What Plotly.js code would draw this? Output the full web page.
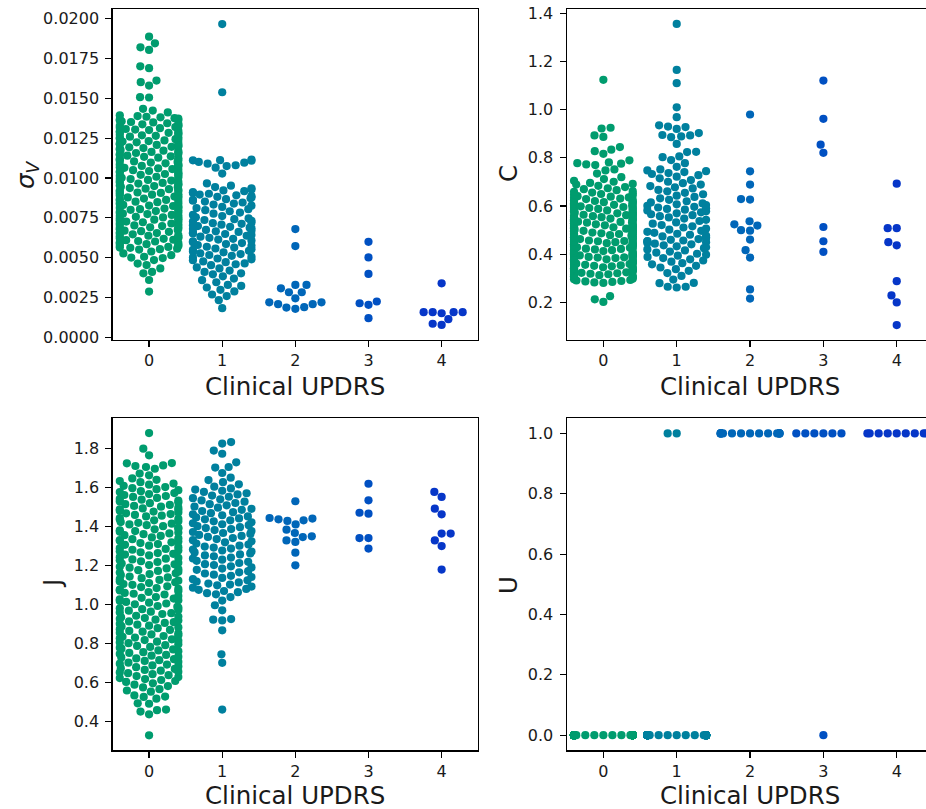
<!DOCTYPE html>
<html>
<head>
<meta charset="utf-8">
<script src="https://cdn.plot.ly/plotly-3.0.1.min.js"></script>
<style>html,body{margin:0;padding:0;overflow:hidden;background:#fff}</style>
</head>
<body>
<div id="chart"></div>
<script>
// ---------------- DATA ----------------
const categories = [0, 1, 2, 3, 4];
const catLabels = ["0", "1", "2", "3", "4"];
const xTitle = "Clinical UPDRS";

// sigma_V per category
const sigV0 = [
0.01888,0.01846,0.01821,0.01805,0.01702,0.01690,0.01612,0.01602,0.01581,0.01508,0.01506,0.01435,0.01424,0.01412,
0.00550,0.00553,0.00556,0.00561,0.00563,0.00567,0.00572,0.00575,0.00579,0.00584,0.00588,0.00591,0.00596,
0.00601,0.00604,0.00609,0.00612,0.00618,0.00621,0.00625,0.00628,0.00633,0.00637,0.00641,0.00646,
0.00650,0.00654,0.00657,0.00662,0.00666,0.00669,0.00674,0.00678,0.00681,0.00686,0.00690,0.00693,0.00698,
0.00702,0.00705,0.00710,0.00714,0.00717,0.00722,0.00726,0.00729,0.00733,0.00738,0.00741,0.00745,0.00749,
0.00752,0.00756,0.00761,0.00764,0.00768,0.00773,0.00776,0.00780,0.00785,0.00788,0.00792,0.00797,
0.00800,0.00804,0.00808,0.00812,0.00815,0.00820,0.00824,0.00827,0.00831,0.00836,0.00839,0.00843,0.00848,
0.00851,0.00855,0.00859,0.00862,0.00867,0.00871,0.00874,0.00878,0.00883,0.00886,0.00890,0.00895,0.00898,
0.00902,0.00906,0.00909,0.00914,0.00918,0.00921,0.00925,0.00930,0.00933,0.00937,0.00942,0.00945,0.00949,
0.00953,0.00957,0.00960,0.00965,0.00969,0.00972,0.00977,0.00981,0.00984,0.00988,0.00993,0.00996,
0.01001,0.01004,0.01008,0.01013,0.01016,0.01020,0.01025,0.01028,0.01032,0.01037,0.01040,0.01044,0.01049,
0.01052,0.01056,0.01061,0.01064,0.01068,0.01073,0.01076,0.01080,0.01085,0.01088,0.01092,0.01097,
0.01100,0.01104,0.01109,0.01112,0.01116,0.01121,0.01124,0.01128,0.01133,0.01136,0.01140,0.01145,0.01148,
0.01152,0.01157,0.01160,0.01164,0.01169,0.01172,0.01176,0.01181,0.01184,0.01188,0.01193,0.01196,
0.01200,0.01205,0.01208,0.01212,0.01217,0.01220,0.01224,0.01229,0.01232,0.01236,0.01241,0.01244,0.01248,
0.01253,0.01256,0.01260,0.01265,0.01268,0.01272,0.01277,0.01280,0.01284,0.01289,0.01292,0.01296,
0.01301,0.01304,0.01308,0.01313,0.01316,0.01320,0.01325,0.01328,0.01332,0.01337,0.01340,0.01344,0.01349,
0.01352,0.01356,0.01361,0.01364,0.01368,0.01373,0.01376,0.01381,0.01385,0.01389,0.01394,
0.00538,0.00526,0.00515,0.00505,0.00500,0.00497,0.00484,0.00462,0.00453,0.00432,0.00410,0.00401,0.00359,0.00286];
const sigV1 = [
0.01967,0.01539,
0.01115,0.01112,0.01111,0.01109,0.01101,0.01096,0.01090,0.01080,0.01075,0.01065,0.01028,
0.00452,0.00458,0.00463,0.00471,0.00476,0.00483,0.00489,0.00494,
0.00501,0.00505,0.00511,0.00516,0.00522,0.00527,0.00533,0.00538,0.00543,0.00548,
0.00552,0.00557,0.00563,0.00568,0.00574,0.00579,0.00585,0.00591,0.00596,
0.00602,0.00607,0.00613,0.00618,0.00624,0.00631,0.00637,0.00642,0.00648,
0.00652,0.00656,0.00661,0.00665,0.00669,0.00674,0.00679,0.00684,0.00688,0.00693,0.00698,
0.00703,0.00707,0.00712,0.00716,0.00721,0.00726,0.00731,0.00736,0.00741,0.00746,
0.00753,0.00761,0.00768,0.00776,0.00783,0.00791,0.00798,
0.00804,0.00811,0.00818,0.00826,0.00833,0.00839,0.00846,
0.00852,0.00857,0.00862,0.00867,0.00872,0.00877,0.00882,0.00886,0.00891,0.00896,
0.00901,0.00906,0.00911,0.00917,0.00922,0.00928,0.00935,0.00943,0.00952,0.00966,
0.00438,0.00432,0.00418,0.00410,0.00401,0.00395,0.00382,0.00368,0.00358,0.00345,0.00328,0.00322,0.00312,0.00297,0.00287,0.00268,0.00258,0.00232,0.00182];
const sigV2 = [0.00679,0.00572,0.00307,0.00328,0.00328,0.00282,0.00282,0.00244,0.00219,0.00219,0.00207,0.00207,0.00186,0.00178,0.00188];
const sigV3 = [0.00599,0.00501,0.00397,0.00213,0.00203,0.00224,0.00119];
const sigV4 = [0.00338,0.00157,0.00157,0.00150,0.00157,0.00157,0.00113,0.00077,0.00084];

// C per category
const c0 = [
1.124,
0.925,0.922,0.893,0.887,0.845,0.834,0.828,0.817,0.790,0.781,0.778,0.776,0.773,0.770,0.752,0.748,0.735,0.720,0.705,
0.692,0.696,0.701,0.712,
0.226,0.213,0.202,
0.281,0.283,0.285,0.287,0.289,0.291,0.293,0.296,0.298,
0.301,0.303,0.305,0.307,0.309,0.311,0.313,0.315,0.317,0.319,
0.321,0.323,0.325,0.327,0.329,0.331,0.333,0.335,0.337,0.339,
0.341,0.342,0.344,0.346,0.348,0.350,0.352,0.354,0.356,0.357,0.359,
0.361,0.362,0.364,0.366,0.368,0.370,0.371,0.373,0.375,0.377,0.379,
0.380,0.382,0.384,0.386,0.387,0.389,0.391,0.393,0.395,0.396,0.398,
0.400,0.402,0.404,0.405,0.407,0.409,0.411,0.413,0.414,0.416,0.418,
0.420,0.422,0.423,0.425,0.427,0.429,0.431,0.432,0.434,0.436,0.438,0.439,
0.441,0.443,0.445,0.446,0.448,0.450,0.452,0.454,0.455,0.457,0.459,
0.461,0.463,0.464,0.466,0.468,0.470,0.472,0.473,0.475,0.477,0.479,
0.481,0.482,0.484,0.486,0.488,0.490,0.491,0.493,0.495,0.497,0.499,
0.500,0.502,0.504,0.506,0.508,0.509,0.511,0.513,0.515,0.517,0.518,
0.520,0.522,0.524,0.526,0.527,0.529,0.531,0.533,0.535,0.537,0.539,
0.541,0.543,0.545,0.546,0.548,0.550,0.552,0.554,0.556,0.558,
0.560,0.562,0.564,0.566,0.568,0.570,0.572,0.574,0.576,0.578,
0.580,0.582,0.584,0.586,0.588,0.590,0.592,0.594,0.596,0.598,
0.601,0.603,0.605,0.608,0.610,0.612,0.614,0.617,0.619,
0.621,0.624,0.626,0.629,0.631,0.634,0.636,0.639,
0.641,0.644,0.647,0.650,0.653,0.656,0.659,
0.662,0.666,0.670,0.674,0.679,0.684,0.689,
0.347,0.374,0.392,0.417,0.444,0.469,0.487,0.512,0.534,0.557,0.579,0.599,0.616];
const c1 = [
1.356,1.165,1.110,1.010,0.969,
0.935,0.930,0.928,0.920,0.903,0.895,0.893,0.889,0.886,0.858,0.825,0.824,0.806,0.803,
0.262,0.265,0.265,0.281,0.280,0.295,0.310,
0.322,0.331,0.338,0.345,0.352,0.358,
0.363,0.369,0.374,0.379,0.384,0.389,0.394,0.398,
0.402,0.407,0.411,0.416,0.420,0.425,0.429,0.433,0.437,
0.441,0.444,0.447,0.450,0.453,0.455,0.457,0.460,0.463,0.467,0.470,0.474,0.477,
0.481,0.485,0.489,0.493,0.497,0.502,0.506,0.511,0.516,
0.521,0.527,0.532,0.538,0.543,0.548,0.553,0.558,
0.562,0.566,0.570,0.574,0.578,0.582,0.585,0.588,0.591,0.594,0.597,
0.601,0.604,0.607,0.611,0.615,0.620,0.626,0.632,0.638,
0.643,0.649,0.655,0.661,0.667,0.673,0.678,
0.683,0.689,0.695,0.701,0.708,0.715,
0.722,0.728,0.733,0.737,0.741,0.745,0.748,0.752,0.763,0.778,0.791];
const c2 = [0.980,0.744,0.689,0.629,0.627,0.537,0.524,0.519,0.500,0.498,0.461,0.417,0.386,0.254,0.216];
const c3 = [1.121,0.962,0.855,0.821,0.513,0.454,0.410];
const c4 = [0.693,0.508,0.508,0.450,0.437,0.288,0.229,0.200,0.106];

// J per category
const j0 = [
1.880,1.800,1.766,1.726,1.725,1.714,1.711,1.706,1.697,1.672,1.663,
0.328,0.436,0.450,0.457,0.460,0.490,0.492,0.516,0.525,0.527,0.533,0.552,0.558,0.565,0.574,0.581,0.588,0.595,
0.602,0.607,0.612,0.617,0.622,0.627,0.632,0.637,0.642,0.647,
0.651,0.655,0.660,0.664,0.669,0.673,0.678,0.682,0.687,0.691,0.696,
0.701,0.705,0.710,0.714,0.719,0.723,0.728,0.732,0.737,0.741,0.746,
0.751,0.755,0.760,0.764,0.769,0.773,0.778,0.782,0.787,0.791,0.796,
0.801,0.805,0.809,0.813,0.817,0.821,0.826,0.830,0.834,0.838,0.842,0.846,
0.851,0.855,0.860,0.864,0.869,0.873,0.878,0.882,0.887,0.891,0.896,
0.901,0.905,0.909,0.913,0.917,0.922,0.926,0.930,0.934,0.938,0.942,
0.951,0.955,0.959,0.963,0.968,0.972,0.976,0.980,0.984,0.988,0.992,
1.001,1.005,1.009,1.013,1.018,1.022,1.026,1.030,1.034,1.038,1.043,
1.051,1.055,1.059,1.064,1.068,1.072,1.076,1.080,1.084,1.089,1.093,
1.101,1.105,1.110,1.114,1.118,1.122,1.126,1.130,1.135,1.139,1.143,
1.151,1.156,1.160,1.164,1.168,1.172,1.176,1.181,1.185,1.189,1.193,
1.202,1.206,1.210,1.214,1.218,1.222,1.227,1.231,1.235,1.239,1.243,
1.252,1.256,1.260,1.264,1.268,1.273,1.277,1.281,1.285,1.289,1.294,
1.302,1.306,1.310,1.315,1.319,1.323,1.327,1.331,1.335,1.340,1.344,
1.352,1.356,1.361,1.365,1.369,1.373,1.377,1.381,1.386,1.390,1.394,
1.402,1.407,1.411,1.415,1.419,1.423,1.427,1.432,1.436,1.440,1.444,
1.452,1.456,1.460,1.464,1.468,1.472,1.477,1.481,1.485,1.489,1.493,1.497,
1.502,1.506,1.511,1.515,1.520,1.524,1.529,1.533,1.538,1.542,1.547,
1.552,1.557,1.562,1.567,1.572,1.577,1.582,1.587,1.592,1.597,
1.603,1.609,1.615,1.621,1.628,1.634,1.640,1.647];
const j1 = [
1.834,1.826,1.790,1.774,1.730,1.706,1.703,1.675,
0.460,0.700,0.744,0.867,0.918,0.922,0.925,0.970,0.996,1.020,1.038,
1.052,1.058,1.063,1.069,1.075,1.080,1.086,1.092,1.098,
1.102,1.107,1.113,1.118,1.124,1.130,1.136,1.141,1.147,
1.153,1.159,1.165,1.171,1.178,1.184,1.190,1.196,
1.202,1.207,1.213,1.219,1.224,1.230,1.236,1.241,1.247,
1.252,1.257,1.262,1.267,1.272,1.277,1.282,1.287,1.292,1.297,
1.302,1.308,1.313,1.319,1.324,1.330,1.336,1.341,1.347,
1.352,1.357,1.362,1.367,1.372,1.377,1.382,1.387,1.392,1.397,
1.402,1.407,1.412,1.417,1.422,1.427,1.432,1.437,1.442,1.447,
1.452,1.458,1.463,1.469,1.474,1.480,1.486,1.491,1.497,
1.503,1.509,1.515,1.521,1.528,1.534,1.540,1.546,
1.553,1.559,1.565,1.571,1.578,1.584,1.590,1.596,
1.605,1.617,1.628,1.639,1.651];
const j2 = [1.530,1.441,1.429,1.411,1.432,1.437,1.444,1.384,1.367,1.346,1.350,1.329,1.321,1.266,1.201];
const j3 = [1.620,1.535,1.471,1.466,1.341,1.341,1.287];
const j4 = [1.578,1.552,1.492,1.463,1.364,1.364,1.329,1.300,1.179];

// U per category
const u0 = [
0,0,0,0,0,0,0,0,0,0,0,0,0,0,0,0,0,0,0,0,
0,0,0,0,0,0,0,0,0,0,0,0,0,0,0,0,0,0,0,0,
0,0,0,0,0,0,0,0,0,0,0,0,0,0,0,0,0,0,0,0,
0,0,0,0,0,0,0,0,0,0,0,0,0,0,0,0,0,0,0,0,
0,0,0,0,0,0,0,0,0,0,0,0,0,0,0,0,0,0,0,0,
0,0,0,0,0,0,0,0,0,0,0,0,0,0,0,0,0,0,0,0,
0,0,0,0,0,0,0,0,0,0,0,0,0,0,0,0,0,0,0,0,
0,0,0,0,0,0,0,0,0,0,0,0,0,0,0,0,0,0,0,0,
0,0,0,0,0,0,0,0,0,0,0,0,0,0,0,0,0,0,0,0,
0,0,0,0,0,0,0,0,0,0,0,0,0,0,0,0,0,0,0,0,
0,0,0,0,0,0,0,0,0,0,0,0,0,0,0,0,0,0,0,0,
0,0,0,0,0,0,0,0,0,0,0,0,0,0,0,0,0,0,0,0,
0];
const u1 = [
1,1,
0,0,0,0,0,0,0,0,0,0,0,0,0,0,0,0,0,0,0,0,
0,0,0,0,0,0,0,0,0,0,0,0,0,0,0,0,0,0,0,0,
0,0,0,0,0,0,0,0,0,0,0,0,0,0,0,0,0,0,0,0,
0,0,0,0,0,0,0,0,0,0,0,0,0,0,0,0,0,0,0,0,
0,0,0,0,0,0,0,0,0,0,0,0,0,0,0,0,0,0,0,0,
0,0,0,0,0,0,0,0,0,0,0,0,0,0,0,0,0,0,0,0,
0];
const u2 = [1,1,1,1,1,1,1,1,1,1,1,1,1,1,1];
const u3 = [1,1,1,1,1,1,0];
const u4 = [1,1,1,1,1,1,1,1,1];

// tick labels
const sigTickVals = [0, 0.0025, 0.005, 0.0075, 0.01, 0.0125, 0.015, 0.0175, 0.02];
const sigTickText = ["0.0000","0.0025","0.0050","0.0075","0.0100","0.0125","0.0150","0.0175","0.0200"];
const cTickVals = [0.2, 0.4, 0.6, 0.8, 1.0, 1.2, 1.4];
const cTickText = ["0.2","0.4","0.6","0.8","1.0","1.2","1.4"];
const jTickVals = [0.4, 0.6, 0.8, 1.0, 1.2, 1.4, 1.6, 1.8];
const jTickText = ["0.4","0.6","0.8","1.0","1.2","1.4","1.6","1.8"];
const uTickVals = [0, 0.2, 0.4, 0.6, 0.8, 1.0];
const uTickText = ["0.0","0.2","0.4","0.6","0.8","1.0"];

// ---------------- STYLE / LAYOUT ----------------
const colors = ['#009c6e', '#00809e', '#0066b8', '#0050c2', '#0636c8'];
const W = 940, H = 809;
const MS = 8.2;      // marker diameter px
const D = 8.6;       // swarm collision diameter px
const FONT = 'DejaVu Sans';
const panels = {
  tl: {x0: 112.5, x1: 478.2, y0: 9, y1: 340, yr: [-0.00018, 0.02062]},
  tr: {x0: 566.7, x1: 933.4, y0: 9, y1: 340, yr: [0.044, 1.418]},
  bl: {x0: 112.5, x1: 478.2, y0: 418.3, y1: 750.3, yr: [0.251, 1.956]},
  br: {x0: 566.7, x1: 933.4, y0: 418.3, y1: 750.3, yr: [-0.05, 1.05]}
};

// seaborn-style beeswarm (in pixel units), returns x offsets in px
function beeswarm(vals, pxPerY, d) {
  const n = vals.length;
  const order = vals.map((v, i) => i).sort((a, b) => vals[a] - vals[b] || a - b);
  const ys = order.map(i => vals[i] * pxPerY);
  const xs = [];
  for (let k = 0; k < n; k++) {
    const yi = ys[k];
    if (k === 0) { xs.push(0); continue; }
    let start = k;
    while (start > 0 && (yi - ys[start - 1]) < d) start--;
    if (start === k) { xs.push(0); continue; }
    const cands = [0];
    let leftFirst = true;
    for (let j = start; j < k; j++) {
      const dy = yi - ys[j];
      const dx = Math.sqrt(Math.max(d * d - dy * dy, 0)) * 1.05;
      if (leftFirst) cands.push(xs[j] - dx, xs[j] + dx);
      else cands.push(xs[j] + dx, xs[j] - dx);
      leftFirst = !leftFirst;
    }
    const ord = cands.map((c, i) => i).sort((a, b) => (Math.abs(cands[a]) - Math.abs(cands[b])) || (a - b));
    let chosen = cands[ord[ord.length - 1]];
    for (const ci of ord) {
      const x = cands[ci];
      let ok = true;
      for (let j = start; j < k; j++) {
        const ddx = x - xs[j], ddy = yi - ys[j];
        if (ddx * ddx + ddy * ddy < d * d - 1e-9) { ok = false; break; }
      }
      if (ok) { chosen = x; break; }
    }
    xs.push(chosen);
  }
  const out = new Array(n);
  order.forEach((i, k) => { out[i] = xs[k]; });
  return out;
}

const traces = [];
function addPanel(series, xa, ya, p) {
  const pxX = (p.x1 - p.x0) / 5;
  const pxY = (p.y1 - p.y0) / (p.yr[1] - p.yr[0]);
  series.forEach((vals, c) => {
    const off = beeswarm(vals, pxY, D);
    traces.push({
      type: 'scatter', mode: 'markers',
      x: off.map(o => categories[c] + Math.max(-0.4, Math.min(0.4, o / pxX))),
      y: vals,
      xaxis: xa, yaxis: ya,
      marker: {color: colors[c], size: MS, line: {width: 0}},
      hoverinfo: 'skip', showlegend: false
    });
  });
}
addPanel([sigV0, sigV1, sigV2, sigV3, sigV4], 'x', 'y', panels.tl);
addPanel([c0, c1, c2, c3, c4], 'x2', 'y2', panels.tr);
addPanel([j0, j1, j2, j3, j4], 'x3', 'y3', panels.bl);
addPanel([u0, u1, u2, u3, u4], 'x4', 'y4', panels.br);

const base = {
  showline: true, mirror: true, linecolor: '#000', linewidth: 1.2,
  ticks: 'outside', ticklen: 6, tickwidth: 1.2, tickcolor: '#000',
  showgrid: false, zeroline: false, fixedrange: true,
  tickfont: {family: FONT, size: 16, color: '#1a1a1a'}
};
function xax(p, anchor) {
  return Object.assign({}, base, {
    domain: [p.x0 / W, p.x1 / W], range: [-0.5, 4.5], anchor: anchor,
    tickmode: 'array', tickvals: categories, ticktext: catLabels, ticklabelstandoff: 0
  });
}
function yax(p, anchor, tv, tt) {
  return Object.assign({}, base, {
    domain: [1 - p.y1 / H, 1 - p.y0 / H], range: p.yr, anchor: anchor,
    tickmode: 'array', tickvals: tv, ticktext: tt, ticklabelstandoff: 3
  });
}
const tfont = {family: FONT, size: 24.5, color: '#1a1a1a'};
function ann(text, px, py, angle) {
  return {text: text, xref: 'paper', yref: 'paper', x: px / W, y: 1 - py / H,
    xanchor: 'center', yanchor: 'middle', showarrow: false, font: tfont, textangle: angle || 0};
}
const layout = {
  width: W, height: H,
  margin: {l: 0, r: 0, t: 0, b: 0},
  paper_bgcolor: '#fff', plot_bgcolor: '#fff',
  showlegend: false,
  xaxis: xax(panels.tl, 'y'),
  yaxis: yax(panels.tl, 'x', sigTickVals, sigTickText),
  xaxis2: xax(panels.tr, 'y2'),
  yaxis2: yax(panels.tr, 'x2', cTickVals, cTickText),
  xaxis3: xax(panels.bl, 'y3'),
  yaxis3: yax(panels.bl, 'x3', jTickVals, jTickText),
  xaxis4: xax(panels.br, 'y4'),
  yaxis4: yax(panels.br, 'x4', uTickVals, uTickText),
  annotations: [
    ann(xTitle, 295.3, 386, 0),
    ann(xTitle, 750, 386, 0),
    ann(xTitle, 295.3, 795, 0),
    ann(xTitle, 750, 795, 0),
    ann('<i>σ</i><sub><i>V</i></sub>', 27, 175, -90),
    ann('C', 508, 174, -90),
    ann('J', 52, 584, -90),
    ann('U', 508, 585, -90)
  ]
};
Plotly.newPlot('chart', traces, layout, {staticPlot: true, displayModeBar: false});
</script>
</body>
</html>
